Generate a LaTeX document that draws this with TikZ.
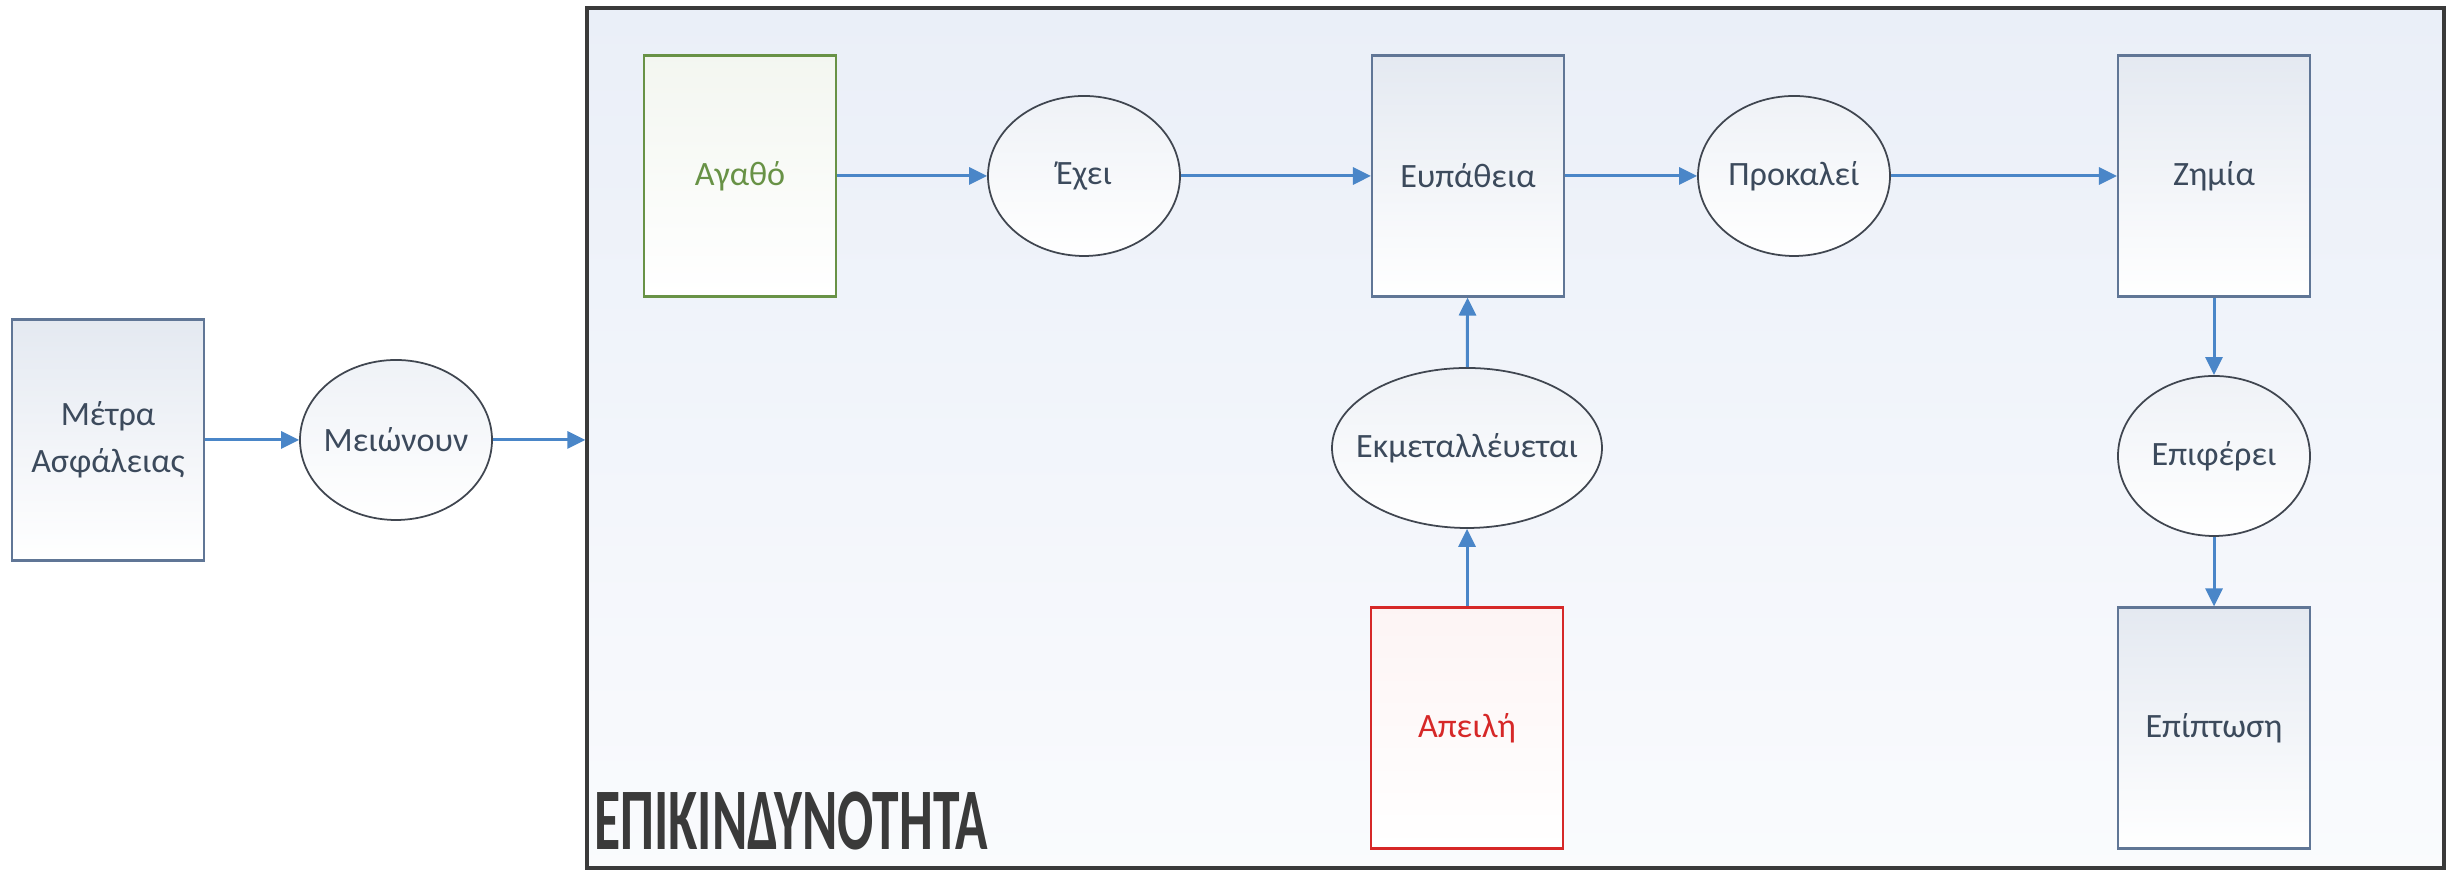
\documentclass[tikz,border=0pt]{standalone}
\usepackage{fontspec}
\setmainfont{Carlito}
\usepackage{tikz,graphicx}
\usetikzlibrary{arrows.meta, shapes.geometric, calc}

\definecolor{arrowblue}{RGB}{74,134,200}
\definecolor{boxline}{RGB}{96,118,150}
\definecolor{ovalline}{RGB}{64,70,80}
\definecolor{labeltext}{RGB}{60,74,92}
\definecolor{goodgreen}{RGB}{104,146,70}
\definecolor{threatred}{RGB}{214,40,40}
\definecolor{framefill}{RGB}{234,239,248}
\definecolor{boxfill}{RGB}{228,233,241}
\definecolor{titlegray}{RGB}{58,58,58}

\begin{document}
\begin{tikzpicture}[
    every node/.style={font=\fontsize{9.7}{13.4}\selectfont, text=labeltext},
    box/.style={rectangle, draw=boxline, line width=0.6pt, minimum width=1.92cm, minimum height=2.41cm, top color=boxfill, bottom color=white, align=center, inner sep=0pt},
    oval/.style={ellipse, draw=ovalline, line width=0.5pt, minimum width=1.92cm, minimum height=1.6cm, top color=boxfill!60, bottom color=white, inner ysep=0pt, inner xsep=-0.4cm},
    link/.style={draw=arrowblue, line width=0.85pt, -{Triangle[length=0.18cm, width=0.17cm]}}
    ]
    \useasboundingbox (0,0) rectangle (24.58,8.70);

    % outer frame
    \node[rectangle, draw=titlegray, line width=0.9pt, minimum width=18.57cm, minimum height=8.60cm, top color=framefill, bottom color=framefill!25, inner sep=0pt] (risk) at (15.155,4.32) {};
    \node[anchor=base west, text=titlegray, font=\bfseries\fontsize{25}{30}\selectfont, inner sep=0pt] (title) at ($(risk.south west)+(0.08,0.20)$) {\scalebox{0.61}[1]{ΕΠΙΚΙΝΔΥΝΟΤΗΤΑ}};

    % left part
    \node[box] (metra) at (1.08,4.30) {Μέτρα\\Ασφάλειας};
    \node[oval] (meionoun) at (3.96,4.30) {Μειώνουν};

    % top row
    \node[box, draw=goodgreen, text=goodgreen, top color=goodgreen!8] (agatho) at (7.40,6.94) {Αγαθό};
    \node[oval] (exei) at (10.84,6.94) {Έχει};
    \node[box] (eupatheia) at (14.68,6.94) {Ευπάθεια};
    \node[oval] (prokalei) at (17.94,6.94) {Προκαλεί};
    \node[box] (zimia) at (22.14,6.94) {Ζημία};

    % lower part
    \node[oval, minimum width=2.70cm] (ekmet) at (14.67,4.22) {Εκμεταλλέυεται};
    \node[box, draw=threatred, text=threatred, line width=0.8pt, top color=threatred!5] (apeili) at (14.67,1.42) {Απειλή};
    \node[oval] (epiferei) at (22.14,4.14) {Επιφέρει};
    \node[box] (epiptosi) at (22.14,1.42) {Επίπτωση};

    \draw[link] (metra) -- (meionoun);
    \draw[link] (meionoun) -- (meionoun -| risk.west);
    \draw[link] (agatho) -- (exei);
    \draw[link] (exei) -- (eupatheia);
    \draw[link] (eupatheia) -- (prokalei);
    \draw[link] (prokalei) -- (zimia);
    \draw[link] (apeili) -- (ekmet);
    \draw[link] (ekmet) -- (eupatheia);
    \draw[link] (zimia) -- (epiferei);
    \draw[link] (epiferei) -- (epiptosi);
\end{tikzpicture}
\end{document}
